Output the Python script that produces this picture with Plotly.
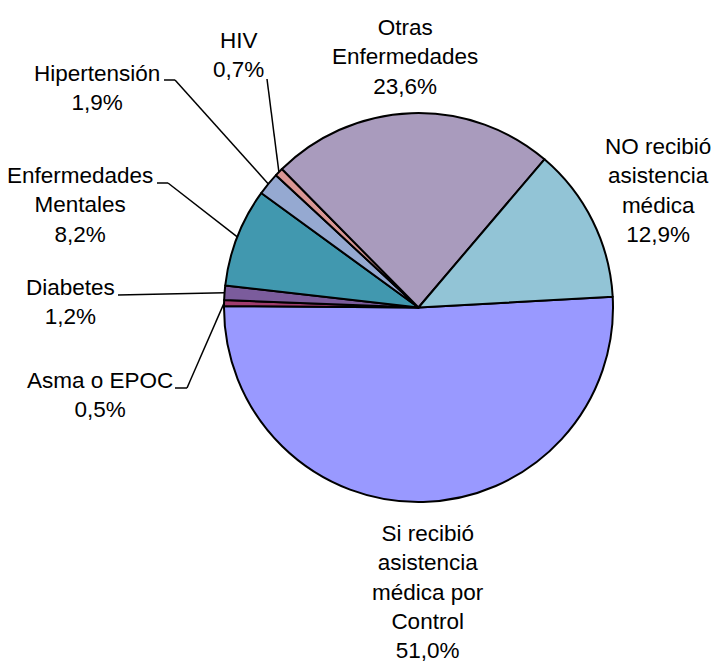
import math
import plotly.graph_objects as go

# ---- data ----
categories = ["Si recibió asistencia médica por Control", "Asma o EPOC", "Diabetes",
              "Enfermedades Mentales", "Hipertensión", "HIV", "Otras Enfermedades",
              "NO recibió asistencia médica"]
label_text = ["Si recibió<br>asistencia<br>médica por<br>Control", "Asma o EPOC", "Diabetes",
              "Enfermedades<br>Mentales", "Hipertensión", "HIV", "Otras<br>Enfermedades",
              "NO recibió<br>asistencia<br>médica"]
values = [51.0, 0.5, 1.2, 8.2, 1.9, 0.7, 23.6, 12.9]
colors = ["#9999FF", "#A03C6E", "#7B5C9C", "#4198AF", "#95A9D1", "#D99694", "#A99BBD", "#92C4D6"]

# ---- layout geometry (pixels) ----
W, H = 716, 664
CX, CY, R = 418.5, 307.5, 194.5
ROT = 86.8  # start angle of first slice, degrees clockwise from 12 o'clock
FONT = dict(family="Liberation Sans, Arial, sans-serif", size=22.5, color="#000000")

# label block centres (pixels)
label_pos = [(428, 592), (100, 395), (70, 302), (80, 205), (97, 88), (238, 55), (405, 57), (658, 190)]
# leader line points on label side (pixels); None = no leader
leader_pts = [None, [(175, 388), (187, 388)], [(118, 295)], [(157, 183), (168, 183)],
              [(164, 80), (175, 80)], [(267, 79)], None, None]


def px(x):
    return x / W


def py(y):
    return 1 - y / H


fig = go.Figure(go.Pie(
    labels=categories, values=values, sort=False, direction="clockwise", rotation=ROT,
    marker=dict(colors=colors, line=dict(color="#000000", width=2)),
    textinfo="none", hoverinfo="label+percent",
    domain=dict(x=[px(CX - R), px(CX + R)], y=[py(CY + R), py(CY - R)]),
))

total = sum(values)
annotations = []
shapes = []
cum = 0.0
for i, v in enumerate(values):
    mid = ROT + (cum + v / 2) / total * 360
    cum += v
    pct = f"{v / total * 100:.1f}".replace(".", ",") + "%"
    lx, ly = label_pos[i]
    annotations.append(dict(text=f"{label_text[i]}<br>{pct}", x=px(lx), y=py(ly),
                            xref="paper", yref="paper", showarrow=False,
                            xanchor="center", yanchor="middle", align="center", font=FONT))
    if leader_pts[i]:
        a = math.radians(mid)
        ex, ey = CX + R * math.sin(a), CY - R * math.cos(a)
        pts = leader_pts[i] + [(ex, ey)]
        for (x0, y0), (x1, y1) in zip(pts[:-1], pts[1:]):
            shapes.append(dict(type="line", xref="paper", yref="paper",
                               x0=px(x0), y0=py(y0), x1=px(x1), y1=py(y1),
                               line=dict(color="#000000", width=1.5)))

fig.update_layout(width=W, height=H, margin=dict(l=0, r=0, t=0, b=0),
                  paper_bgcolor="#FFFFFF", plot_bgcolor="#FFFFFF", showlegend=False,
                  annotations=annotations, shapes=shapes)
fig.write_html("out.html", config={"displayModeBar": False},
               post_script="document.body.style.margin='0';document.body.style.padding='0';")
